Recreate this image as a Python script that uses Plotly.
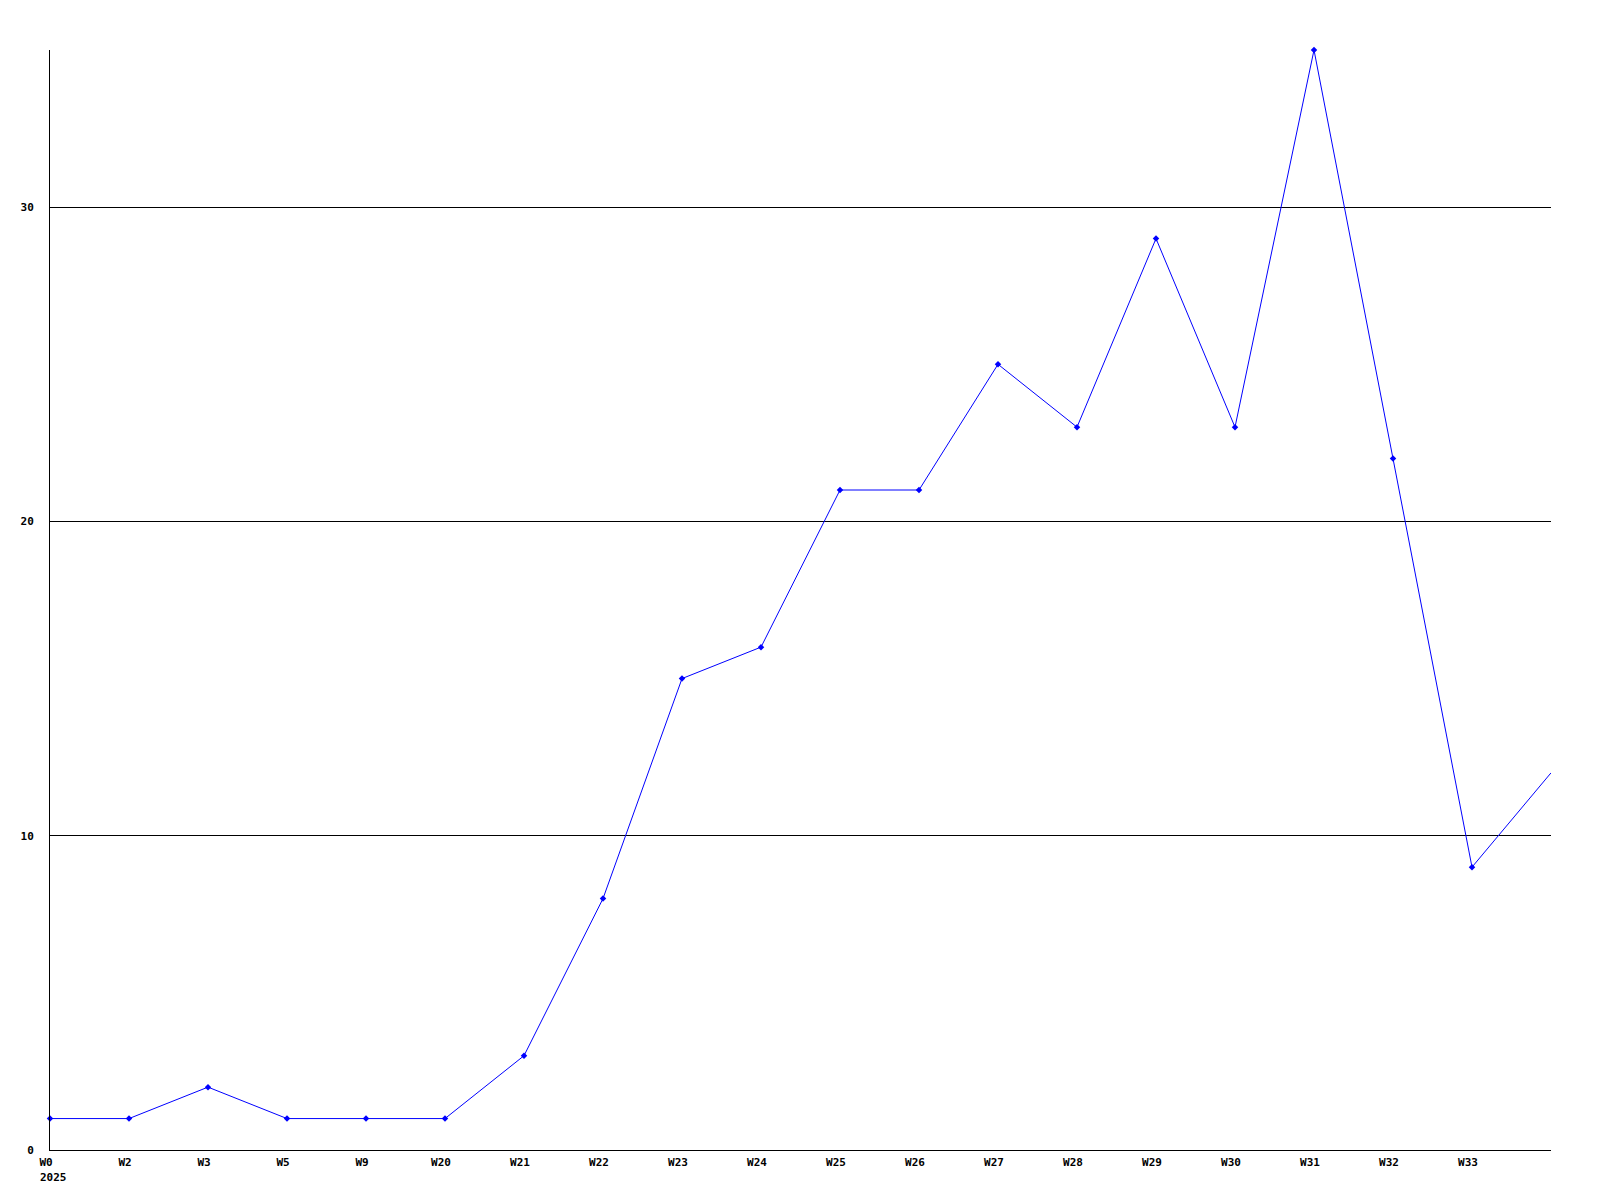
import plotly.graph_objects as go

weeks = ["W0", "W2", "W3", "W5", "W9", "W20", "W21", "W22", "W23", "W24",
         "W25", "W26", "W27", "W28", "W29", "W30", "W31", "W32", "W33", "W34"]
values = [1, 1, 2, 1, 1, 1, 3, 8, 15, 16, 21, 21, 25, 23, 29, 23, 35, 22, 9, 12]
shown_ticks = weeks[:-1]
y_ticks = [0, 10, 20, 30]
year_label = "2025"

font = dict(family="DejaVu Sans Mono", size=11, color="#000000")

fig = go.Figure()
fig.add_trace(go.Scatter(
    x=weeks, y=values, mode="lines",
    line=dict(color="#0000ff", width=1),
    hoverinfo="skip", showlegend=False,
))
fig.add_trace(go.Scatter(
    x=weeks[:-1], y=values[:-1], mode="markers",
    marker=dict(color="#0000ff", size=5, symbol="diamond"),
    cliponaxis=False, showlegend=False,
))

fig.update_layout(
    width=1600, height=1200,
    margin=dict(l=42, r=57, t=42, b=58),
    paper_bgcolor="white", plot_bgcolor="white",
    font=font,
    xaxis=dict(
        type="category", range=[0, len(weeks) - 1],
        tickmode="array", tickvals=shown_ticks, ticktext=[f"<b>{w}</b>" for w in shown_ticks],
        showgrid=False, zeroline=False,
        showline=True, linecolor="#000000", linewidth=1,
        ticks="", ticklabelstandoff=2, ticklabelshift=-4,
        tickfont=font,
    ),
    yaxis=dict(
        range=[0, 35],
        tickmode="array", tickvals=y_ticks, ticktext=[f"<b>{v}</b>" for v in y_ticks],
        showgrid=True, gridcolor="#000000", gridwidth=1,
        zeroline=False,
        showline=True, linecolor="#000000", linewidth=1,
        ticks="", ticklabelstandoff=13,
        tickfont=font,
    ),
    annotations=[dict(
        text=f"<b>{year_label}</b>", xref="paper", yref="paper",
        x=0, y=0, xanchor="left", yanchor="top",
        xshift=-12, yshift=-19, showarrow=False, font=font,
    )],
)

fig.write_html("out.html")
